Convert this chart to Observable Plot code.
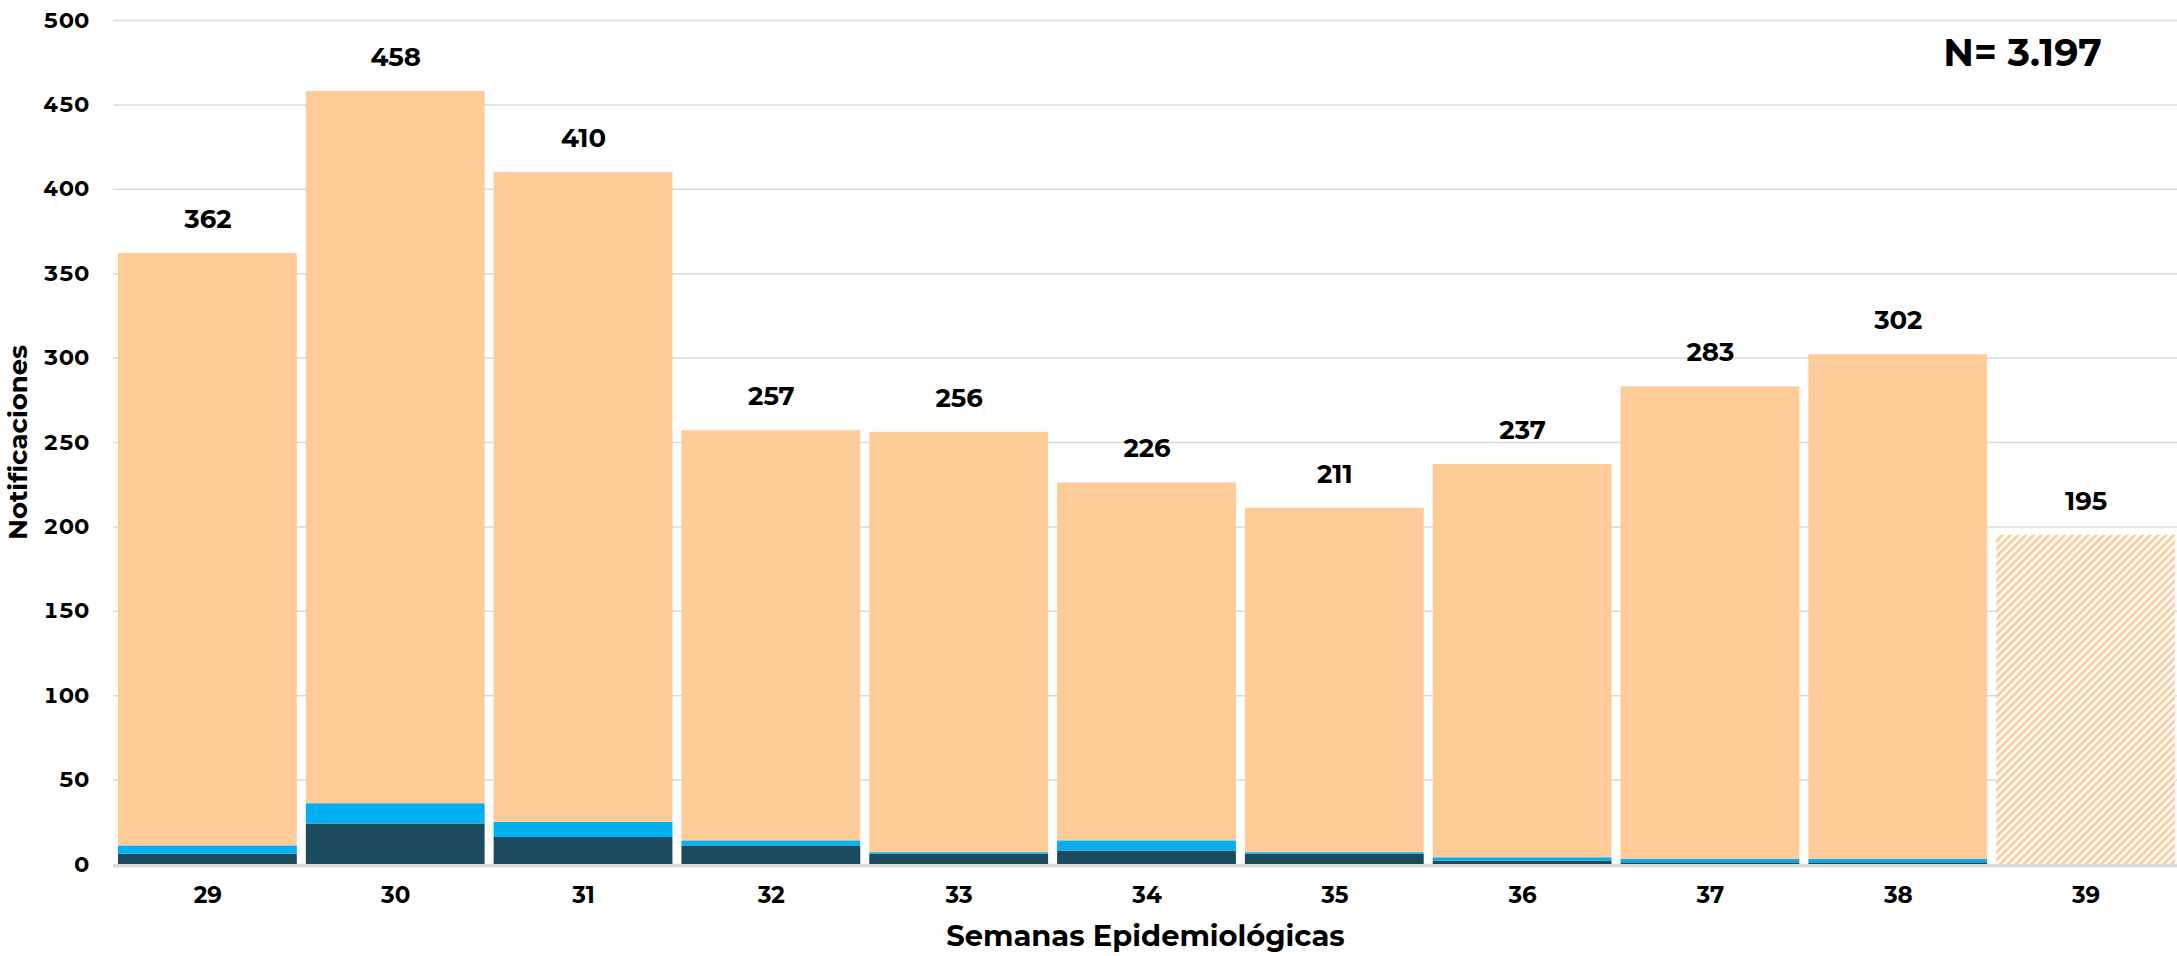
<!DOCTYPE html>
<html>
<head>
<meta charset="utf-8">
<script src="https://cdn.jsdelivr.net/npm/d3@7"></script>
<script src="https://cdn.jsdelivr.net/npm/@observablehq/plot@0.6"></script>
<style>
  html, body { margin: 0; padding: 0; background: #ffffff; }
  svg { display: block; }
</style>
</head>
<body>
<div id="chart"></div>
<script>
// Epidemiological weeks
const weeks = ["29", "30", "31", "32", "33", "34", "35", "36", "37", "38", "39"];
// Bottom segment (dark)
const darkValues   = [6, 24, 16, 11, 6, 8, 6, 2, 1, 1, 0];
// Middle segment (light blue)
const blueValues   = [5, 12, 9, 3, 1, 6, 1, 2, 2, 2, 0];
// Top segment (peach)
const orangeValues = [351, 422, 385, 243, 249, 212, 204, 233, 280, 299, 0];
// Last week (partial, hatched)
const partialValues = [0, 0, 0, 0, 0, 0, 0, 0, 0, 0, 195];
// Totals shown above bars
const totals = [362, 458, 410, 257, 256, 226, 211, 237, 283, 302, 195];
const yTicks = [0, 50, 100, 150, 200, 250, 300, 350, 400, 450, 500];
const totalLabel = "N= 3.197";

const seriesNames = ["Serie A", "Serie B", "Serie C", "Parcial"];
const seriesColors = ["#1C4A5E", "#00B0F0", "#FFCB99", "url(#hatch)"];
const seriesValues = [darkValues, blueValues, orangeValues, partialValues];

const rows = [];
seriesNames.forEach((s, si) => {
  weeks.forEach((w, i) => {
    rows.push({ week: w, series: s, value: seriesValues[si][i] });
  });
});
const totalRows = weeks.map((w, i) => ({ week: w, total: totals[i] }));

const font = "Montserrat, Inter, 'DejaVu Sans', sans-serif";

const chart = Plot.plot({
  width: 2177,
  height: 956,
  marginLeft: 113,
  marginRight: 0,
  marginTop: 20,
  marginBottom: 92,
  style: { fontFamily: font, fontWeight: 700, fontSize: "22px", color: "#000", background: "#fff" },
  x: { domain: weeks, paddingInner: 0.048, paddingOuter: 0, insetLeft: 5, insetRight: 2, round: false, label: null },
  y: { domain: [0, 500], label: null },
  color: { domain: seriesNames, range: seriesColors },
  marks: [
    Plot.gridY(yTicks, { stroke: "#d9d9d9", strokeOpacity: 1, strokeWidth: 1.5 }),
    Plot.ruleY([0], { stroke: "#d9d9d9", strokeWidth: 3, dy: 1.5 }),
    Plot.barY(rows, Plot.stackY({ order: seriesNames, x: "week", y: "value", fill: "series" })),
    Plot.axisY(yTicks, { tickSize: 0, tickPadding: 24, fontSize: 22, fontWeight: 700, label: null }),
    Plot.axisX({ tickSize: 0, tickPadding: 22, fontSize: 23, fontWeight: 700, label: null }),
    Plot.text(totalRows, { x: "week", y: "total", text: d => String(d.total), dy: -34, fontSize: 26, fontWeight: 700, fill: "#000" }),
    Plot.text(["Semanas Epidemiológicas"], { frameAnchor: "bottom", lineAnchor: "middle", dy: 72, fontSize: 29, fontWeight: 700, fill: "#000" }),
    Plot.text(["Notificaciones"], { frameAnchor: "left", textAnchor: "middle", lineAnchor: "middle", dx: -95, rotate: -90, fontSize: 26, fontWeight: 700, fill: "#000" }),
    Plot.text([totalLabel], { frameAnchor: "top-right", textAnchor: "middle", lineAnchor: "middle", dx: -155, dy: 33, fontSize: 38, fontWeight: 700, fill: "#000" })
  ]
});

d3.select(chart).insert("defs", ":first-child").html(
  '<pattern id="hatch" patternUnits="userSpaceOnUse" width="5.5" height="5.5" patternTransform="rotate(45)">' +
  '<rect x="0" y="0" width="5.5" height="5.5" fill="#ffffff"></rect>' +
  '<rect x="0" y="0" width="2.8" height="5.5" fill="#FFCB99"></rect>' +
  '</pattern>'
);

document.getElementById("chart").appendChild(chart);
</script>
</body>
</html>
